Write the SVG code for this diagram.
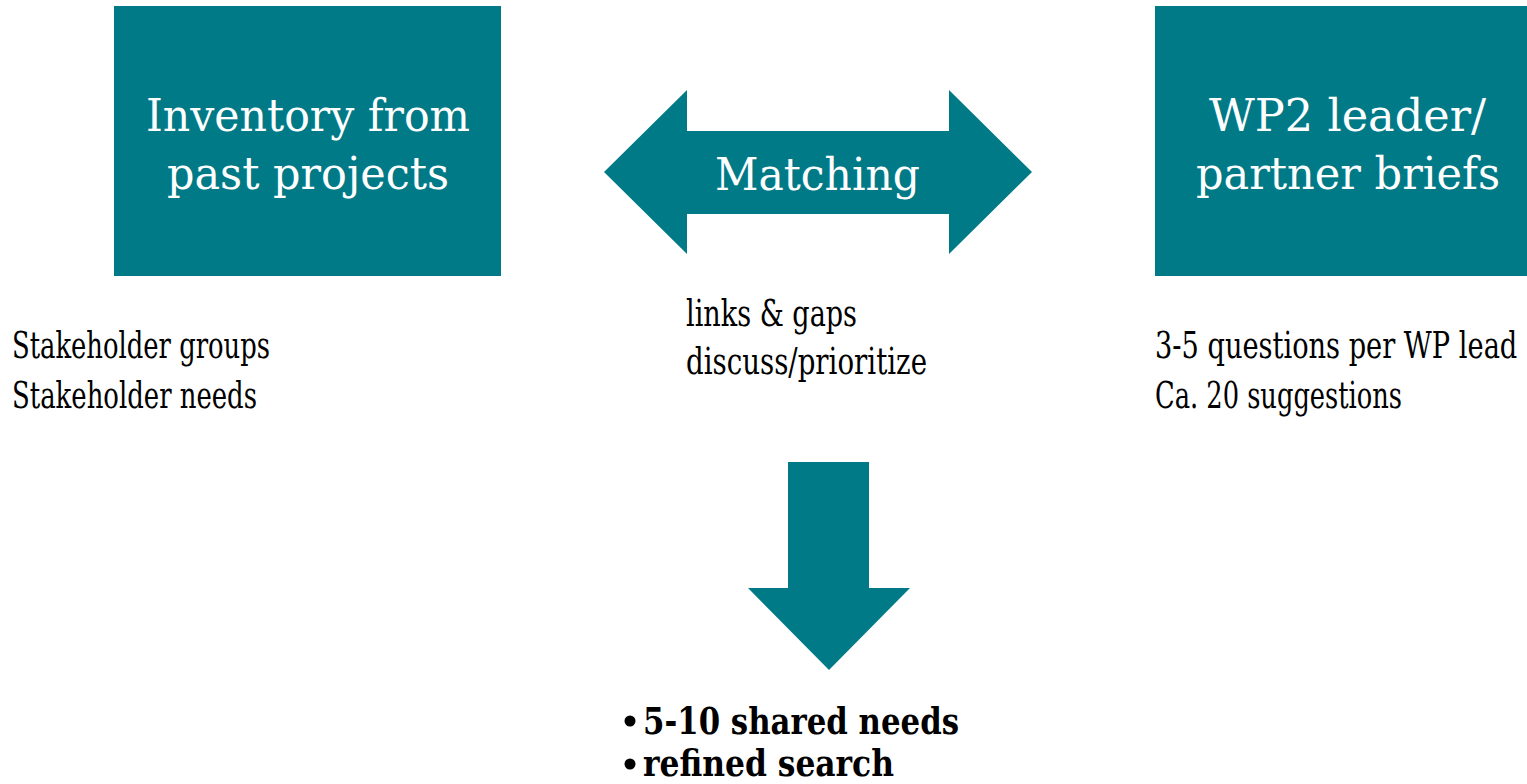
<svg xmlns="http://www.w3.org/2000/svg" width="1527" height="784" viewBox="0 0 1527 784">
<style>
.fill{fill:#017A87}
.box{font-family:"DejaVu Serif","Liberation Serif",serif;font-size:44px;fill:#ffffff}
.lbl{font-family:"DejaVu Serif Condensed","DejaVu Serif","Liberation Serif",serif;font-stretch:condensed;font-size:37px;fill:#000000}
.bold{font-weight:bold}
</style>
<rect width="1527" height="784" fill="#ffffff"/>
<g id="node-inventory">
<rect class="fill" x="114" y="6" width="387" height="270"/>
<text class="box" x="146" y="131" textLength="324" lengthAdjust="spacingAndGlyphs">Inventory from</text>
<text class="box" x="167" y="189" textLength="282" lengthAdjust="spacingAndGlyphs">past projects</text>
</g>
<g id="node-wp2">
<rect class="fill" x="1155" y="6" width="372" height="270"/>
<text class="box" x="1209" y="131" textLength="277" lengthAdjust="spacingAndGlyphs">WP2 leader/</text>
<text class="box" x="1196" y="189" textLength="304" lengthAdjust="spacingAndGlyphs">partner briefs</text>
</g>
<g id="connectors">
<g id="matching-arrow">
<polygon class="fill" points="604,172 687,90 687,131 949,131 949,90 1032,172 949,254 949,214 687,214 687,254"/>
<text class="box" x="715" y="190" textLength="205" lengthAdjust="spacingAndGlyphs">Matching</text>
</g>
<g id="down-arrow">
<polygon class="fill" points="788,462 869,462 869,588 910,588 829,670 748,588 788,588"/>
</g>
</g>
<g id="label-left">
<text class="lbl" x="12" y="358" textLength="258" lengthAdjust="spacingAndGlyphs">Stakeholder groups</text>
<text class="lbl" x="12" y="408" textLength="245" lengthAdjust="spacingAndGlyphs">Stakeholder needs</text>
</g>
<g id="label-middle">
<text class="lbl" x="686" y="326" textLength="171" lengthAdjust="spacingAndGlyphs">links &amp; gaps</text>
<text class="lbl" x="686" y="374" textLength="241" lengthAdjust="spacingAndGlyphs">discuss/prioritize</text>
</g>
<g id="label-right">
<text class="lbl" x="1155" y="358" transform="translate(1155,358) scale(0.818,1) translate(-1155,-358)">3-5 questions per WP lead</text>
<text class="lbl" x="1155" y="408" textLength="247" lengthAdjust="spacingAndGlyphs">Ca. 20 suggestions</text>
</g>
<g id="label-result">
<circle cx="630" cy="721" r="5.5" fill="#000000"/>
<text class="lbl bold" x="643" y="734" textLength="316" lengthAdjust="spacingAndGlyphs">5-10 shared needs</text>
<circle cx="630" cy="764" r="5.5" fill="#000000"/>
<text class="lbl bold" x="643" y="776" textLength="251" lengthAdjust="spacingAndGlyphs">refined search</text>
</g>
</svg>
